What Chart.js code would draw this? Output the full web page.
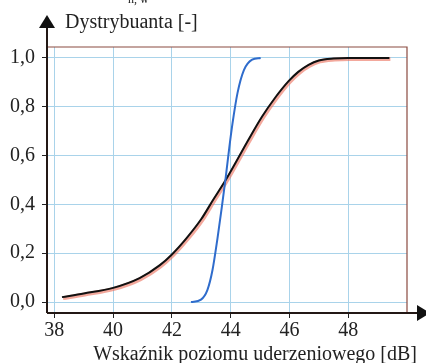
<!DOCTYPE html>
<html>
<head>
<meta charset="utf-8">
<script src="https://cdn.jsdelivr.net/npm/chart.js@4"></script>
<style>
  body { margin: 0; background: #fff; }
  #wrap { width: 426px; height: 363px; }
</style>
</head>
<body>
<div id="wrap"><canvas id="cdfChart" width="426" height="363"></canvas></div>
<script>
const xTicks = [38, 40, 42, 44, 46, 48];
const yTicks = [0, 0.2, 0.4, 0.6, 0.8, 1.0];

const blackX = [38.26, 39.0, 40.0, 40.9, 41.58, 42.0, 42.5, 43.0, 43.4, 43.83, 44.2, 44.6, 45.07, 45.5, 45.97, 46.3, 46.65, 47.0, 47.5, 48.0, 49.4];
const blackY = [0.020, 0.035, 0.058, 0.098, 0.150, 0.195, 0.262, 0.340, 0.418, 0.50, 0.578, 0.664, 0.76, 0.835, 0.905, 0.943, 0.972, 0.99, 0.998, 1.0, 1.0];

const blueX = [42.65, 42.99, 43.21, 43.38, 43.55, 43.70, 43.83, 43.95, 44.06, 44.23, 44.45, 44.73, 45.02];
const blueY = [0.0, 0.01, 0.05, 0.13, 0.26, 0.39, 0.51, 0.63, 0.73, 0.855, 0.95, 0.993, 1.0];

const yTitle = 'Dystrybuanta [-]';
const xTitle = 'Wskaźnik poziomu uderzeniowego [dB]';
const topNote = 'n, w';

const FONT = "'Liberation Serif', 'DejaVu Serif', serif";

function pts(xs, ys) {
  return xs.map((x, i) => ({ x: x, y: ys[i] }));
}

// czerwony cien lekko przesuniety w prawo/dol
const shadowShift = {
  id: 'shadowShift',
  beforeDatasetDraw(chart, args) {
    if (args.index === 0) {
      chart.ctx.save();
      chart.ctx.translate(1, 1);
    }
  },
  afterDatasetDraw(chart, args) {
    if (args.index === 0) chart.ctx.restore();
  }
};

const decorations = {
  id: 'decorations',
  afterDraw(chart) {
    const ctx = chart.ctx;
    const a = chart.chartArea;
    ctx.save();
    // ramka gora/prawo
    ctx.strokeStyle = '#8a4a40';
    ctx.lineWidth = 1.2;
    ctx.beginPath();
    ctx.moveTo(a.left, a.top);
    ctx.lineTo(a.right, a.top);
    ctx.lineTo(a.right, a.bottom);
    ctx.stroke();

    // osie ze strzalkami
    ctx.strokeStyle = '#231815';
    ctx.fillStyle = '#111';
    ctx.lineWidth = 2;
    ctx.beginPath();
    ctx.moveTo(a.left, a.bottom);
    ctx.lineTo(a.left, 26);
    ctx.moveTo(a.left, a.bottom);
    ctx.lineTo(418, a.bottom);
    ctx.stroke();

    ctx.beginPath();
    ctx.moveTo(a.left, 15);
    ctx.lineTo(a.left - 8, 28);
    ctx.lineTo(a.left + 8, 28);
    ctx.closePath();
    ctx.fill();

    ctx.beginPath();
    ctx.moveTo(430, a.bottom);
    ctx.lineTo(417, a.bottom - 8);
    ctx.lineTo(417, a.bottom + 8);
    ctx.closePath();
    ctx.fill();

    // podpisy
    ctx.fillStyle = '#222';
    ctx.font = '20px ' + FONT;
    ctx.textBaseline = 'alphabetic';
    ctx.textAlign = 'left';
    ctx.fillText(yTitle, 65, 28);
    ctx.textAlign = 'right';
    ctx.fillText(xTitle, 417, 360);
    ctx.font = '12px ' + FONT;
    ctx.textAlign = 'left';
    ctx.fillText(topNote, 128, 3);
    ctx.restore();
  }
};

new Chart(document.getElementById('cdfChart'), {
  type: 'line',
  data: {
    datasets: [
      {
        data: pts(blackX, blackY),
        borderColor: 'rgba(235, 110, 90, 0.6)',
        borderWidth: 4,
        pointRadius: 0,
        cubicInterpolationMode: 'monotone',
        order: 3
      },
      {
        data: pts(blackX, blackY),
        borderColor: '#111',
        borderWidth: 2,
        pointRadius: 0,
        cubicInterpolationMode: 'monotone',
        order: 2
      },
      {
        data: pts(blueX, blueY),
        borderColor: '#2f6ccc',
        borderWidth: 2,
        pointRadius: 0,
        cubicInterpolationMode: 'monotone',
        order: 1
      }
    ]
  },
  options: {
    responsive: false,
    animation: false,
    layout: { padding: { top: 47, right: 19, left: 0, bottom: 0 } },
    plugins: { legend: { display: false }, tooltip: { enabled: false } },
    scales: {
      x: {
        type: 'linear',
        min: 37.75,
        max: 50,
        afterBuildTicks: s => { s.ticks = xTicks.map(v => ({ value: v })); },
        afterFit: s => { s.height = 50; },
        grid: { color: '#a9d3ea', tickColor: '#222', tickLength: 5, lineWidth: 1 },
        border: { display: false },
        ticks: { color: '#222', font: { family: FONT, size: 20 }, padding: 1, maxRotation: 0, callback: v => String(v) }
      },
      y: {
        type: 'linear',
        min: -0.045,
        max: 1.045,
        afterBuildTicks: s => { s.ticks = yTicks.map(v => ({ value: v })); },
        afterFit: s => { s.width = 47; },
        grid: { color: '#a9d3ea', tickColor: '#222', tickLength: 5, lineWidth: 1 },
        border: { display: false },
        ticks: { color: '#222', font: { family: FONT, size: 20 }, padding: 7, callback: v => v.toFixed(1).replace('.', ',') }
      }
    }
  },
  plugins: [shadowShift, decorations]
});
</script>
</body>
</html>
